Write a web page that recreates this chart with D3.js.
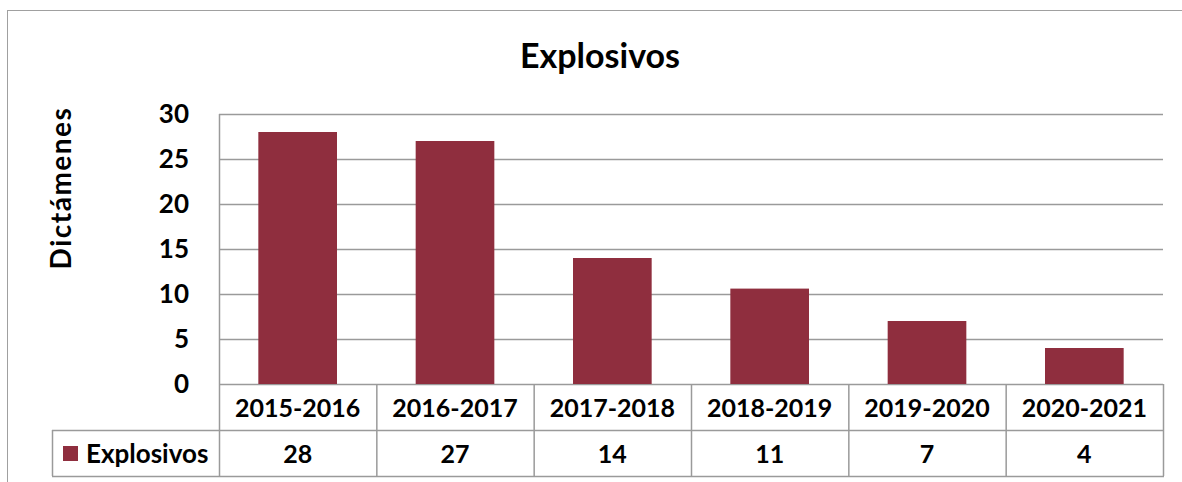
<!DOCTYPE html>
<html>
<head>
<meta charset="utf-8">
<script src="https://cdn.jsdelivr.net/npm/d3@7"></script>
<style>
  body { margin: 0; background: #fff; }
  text { font-family: Lato, "Open Sans", sans-serif; font-weight: bold; fill: #000; }
</style>
</head>
<body>
<div id="chart"></div>
<script>
const categories = ["2015-2016", "2016-2017", "2017-2018", "2018-2019", "2019-2020", "2020-2021"];
const values = [28, 27, 14, 10.6, 7, 4];
const yTicks = [0, 5, 10, 15, 20, 25, 30];
const seriesName = "Explosivos";
const title = "Explosivos";
const yTitle = "Dictámenes";

const W = 1182, H = 482;
const plot = { left: 219, right: 1163, top: 114, bottom: 384 };
const rowH = 46;
const barColor = "#8F2E3E";
const lineColor = "#9A9A9A";

const svg = d3.select("#chart")
              .append("svg")
              .attr("width", W)
              .attr("height", H);

// outer frame (clipped at right/bottom like the source)
svg.append("rect")
   .attr("x", 7.5).attr("y", 10.5)
   .attr("width", W + 10).attr("height", H + 10)
   .attr("fill", "none")
   .attr("stroke", "#A0A0A0");

const x = d3.scaleBand()
            .domain(categories)
            .range([plot.left, plot.right])
            .paddingInner(0.5)
            .paddingOuter(0.25);

const xCell = d3.scaleBand()
                .domain(categories)
                .range([plot.left, plot.right]);

const y = d3.scaleLinear()
            .domain([0, 30])
            .range([plot.bottom, plot.top]);

// gridlines
svg.append("g")
   .selectAll("line")
   .data(yTicks)
   .join("line")
   .attr("x1", plot.left)
   .attr("x2", plot.right)
   .attr("y1", d => Math.round(y(d)) + 0.5)
   .attr("y2", d => Math.round(y(d)) + 0.5)
   .attr("stroke", lineColor)
   .attr("stroke-width", 1.5);

// left axis line
svg.append("line")
   .attr("x1", plot.left + 0.5).attr("x2", plot.left + 0.5)
   .attr("y1", plot.top).attr("y2", plot.bottom + 2 * rowH)
   .attr("stroke", lineColor)
   .attr("stroke-width", 1.5);

// bars
svg.append("g")
   .selectAll("rect")
   .data(values)
   .join("rect")
   .attr("x", (d, i) => x(categories[i]))
   .attr("width", x.bandwidth())
   .attr("y", d => y(d))
   .attr("height", d => y(0) - y(d))
   .attr("fill", barColor);

// y tick labels
svg.append("g")
   .selectAll("text")
   .data(yTicks)
   .join("text")
   .attr("x", 189)
   .attr("y", d => y(d))
   .attr("dy", "0.35em")
   .attr("text-anchor", "end")
   .style("font-size", "26px")
   .text(d => d);

// data table
const table = svg.append("g");
const tb = plot.bottom + 2 * rowH;

table.selectAll("line.v")
     .data(categories)
     .join("line")
     .attr("class", "v")
     .attr("x1", d => xCell(d) + xCell.bandwidth() + 0.5)
     .attr("x2", d => xCell(d) + xCell.bandwidth() + 0.5)
     .attr("y1", plot.bottom)
     .attr("y2", tb)
     .attr("stroke", lineColor)
     .attr("stroke-width", 1.5);

table.append("line")
     .attr("x1", 52).attr("x2", plot.right)
     .attr("y1", plot.bottom + rowH + 0.5).attr("y2", plot.bottom + rowH + 0.5)
     .attr("stroke", lineColor).attr("stroke-width", 1.5);

table.append("line")
     .attr("x1", 52).attr("x2", plot.right + 1)
     .attr("y1", tb + 0.5).attr("y2", tb + 0.5)
     .attr("stroke", lineColor).attr("stroke-width", 1.5);

table.append("line")
     .attr("x1", 52.5).attr("x2", 52.5)
     .attr("y1", plot.bottom + rowH).attr("y2", tb)
     .attr("stroke", lineColor).attr("stroke-width", 1.5);

table.selectAll("text.cat")
     .data(categories)
     .join("text")
     .attr("class", "cat")
     .attr("x", d => xCell(d) + xCell.bandwidth() / 2)
     .attr("y", plot.bottom + rowH / 2 + 1)
     .attr("dy", "0.35em")
     .attr("text-anchor", "middle")
     .style("font-size", "25px")
     .text(d => d);

table.selectAll("text.val")
     .data(values)
     .join("text")
     .attr("class", "val")
     .attr("x", (d, i) => xCell(categories[i]) + xCell.bandwidth() / 2)
     .attr("y", plot.bottom + rowH * 1.5 + 1)
     .attr("dy", "0.35em")
     .attr("text-anchor", "middle")
     .style("font-size", "25px")
     .text(d => Math.round(d));

// legend key in table
table.append("rect")
     .attr("x", 63).attr("y", plot.bottom + rowH * 1.5 - 7)
     .attr("width", 15).attr("height", 15)
     .attr("fill", barColor);

table.append("text")
     .attr("x", 86)
     .attr("y", plot.bottom + rowH * 1.5 + 1)
     .attr("dy", "0.35em")
     .style("font-size", "26px")
     .text(seriesName);

// title
svg.append("text")
   .attr("x", 600)
   .attr("y", 56)
   .attr("dy", "0.35em")
   .attr("text-anchor", "middle")
   .style("font-size", "34px")
   .text(title);

// y axis title
svg.append("text")
   .attr("transform", `translate(61, 188) rotate(-90)`)
   .attr("dy", "0.35em")
   .attr("text-anchor", "middle")
   .style("font-size", "28px")
   .style("letter-spacing", "1.5px")
   .text(yTitle);
</script>
</body>
</html>
